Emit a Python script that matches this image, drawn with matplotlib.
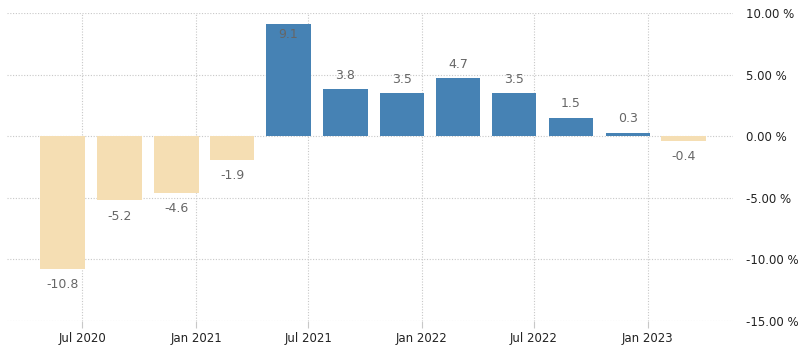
import matplotlib
matplotlib.use("Agg")
import matplotlib.pyplot as plt
import matplotlib.dates as mdates
import numpy as np
import datetime as dt

quarters = ["2020-06-30", "2020-09-30", "2020-12-31", "2021-03-31",
            "2021-06-30", "2021-09-30", "2021-12-31", "2022-03-31",
            "2022-06-30", "2022-09-30", "2022-12-31", "2023-03-31"]
values = [-10.8, -5.2, -4.6, -1.9, 9.1, 3.8, 3.5, 4.7, 3.5, 1.5, 0.3, -0.4]
yticks = [-15, -10, -5, 0, 5, 10]
xtick_dates = ["2020-07-01", "2021-01-01", "2021-07-01", "2022-01-01", "2022-07-01", "2023-01-01"]
xtick_labels = ["Jul 2020", "Jan 2021", "Jul 2021", "Jan 2022", "Jul 2022", "Jan 2023"]

dates = [dt.datetime.strptime(d, "%Y-%m-%d") + dt.timedelta(days=5) for d in quarters]
xd = [dt.datetime.strptime(d, "%Y-%m-%d") for d in xtick_dates]

fig = plt.figure(figsize=(8, 3.5), dpi=100)
ax = fig.add_axes([7/800, 29/350, 726/800, 308/350])

pos_c = "#4682B4"
neg_c = "#F5DEB3"
colors = [pos_c if v >= 0 else neg_c for v in values]
ax.bar(dates, values, width=-72, align="edge", color=colors, edgecolor="none", zorder=2)

ax.set_ylim(-15, 10)
ax.set_xlim(dt.datetime(2020, 3, 1), dt.datetime(2023, 5, 19))

for d, v in zip(dates, values):
    xc = mdates.date2num(d) - 36
    if v >= 9:
        ax.text(xc, v - 0.35, f"{v:.1f}", ha="center", va="top", color="#666666", fontsize=9, zorder=3)
    elif v >= 0:
        ax.text(xc, v + 0.6, f"{v:.1f}", ha="center", va="bottom", color="#666666", fontsize=9, zorder=3)
    else:
        ax.text(xc, v - 0.75, f"{v:.1f}", ha="center", va="top", color="#666666", fontsize=9, zorder=3)

ax.set_yticks(yticks)
ax.set_yticklabels([f"{t:.2f} %" for t in yticks])
ax.yaxis.tick_right()
ax.set_xticks(xd)
ax.set_xticklabels(xtick_labels)

for s in ax.spines.values():
    s.set_visible(False)
ax.grid(True, color="#c8c8c8", linestyle=(0, (1, 1.5)), linewidth=0.8, zorder=0)
ax.set_axisbelow(True)
ax.tick_params(axis="y", length=0, pad=9, labelsize=8.5, labelcolor="#222222")
ax.tick_params(axis="x", length=5, color="#c8c8c8", pad=3, labelsize=8.5, labelcolor="#222222")

fig.savefig("out.png", dpi=100)
